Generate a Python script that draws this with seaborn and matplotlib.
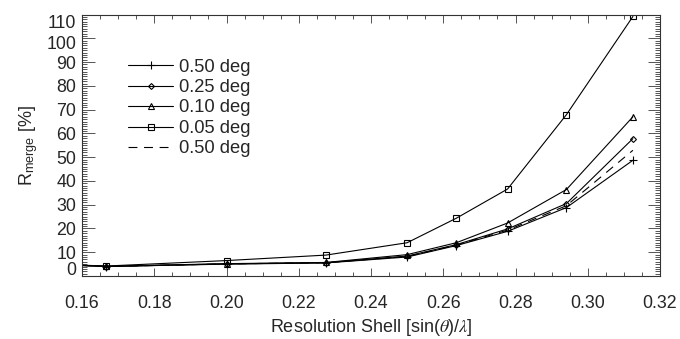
import matplotlib
matplotlib.use("Agg")
import matplotlib.pyplot as plt
import matplotlib.transforms as mtransforms
from matplotlib.ticker import MultipleLocator
import seaborn as sns

# resolution shells, sin(theta)/lambda
shell = [0.1429, 0.1667, 0.2000, 0.2275, 0.2500, 0.2636, 0.2778, 0.2941, 0.3125]

# R_merge (%) per oscillation width
r_050 = [5.5, 4.0, 5.0, 5.5, 8.0, 12.8, 18.8, 28.8, 48.7]
r_025 = [5.5, 4.0, 5.1, 5.6, 8.4, 13.2, 19.8, 30.5, 57.8]
r_010 = [5.5, 4.1, 5.2, 5.7, 9.0, 14.0, 22.3, 36.4, 67.0]
r_005 = [5.5, 4.2, 6.5, 8.8, 14.0, 24.3, 36.6, 67.9, 109.2]
r_050b = [5.5, 4.0, 5.1, 5.6, 8.2, 13.0, 19.3, 29.6, 52.9]

labels = ["0.50 deg", "0.25 deg", "0.10 deg", "0.05 deg", "0.50 deg"]

sns.set_theme(style="ticks")
plt.rcParams["font.family"] = ["Liberation Sans", "DejaVu Sans"]
plt.rcParams["mathtext.fontset"] = "stix"

fig = plt.figure(figsize=(6.8, 3.39), dpi=100)
ax = fig.add_axes([0.1206, 0.1858, 0.85, 0.7712])

styles = [
    dict(marker="+", markersize=5.5),
    dict(marker="D", markersize=3, markerfacecolor="none"),
    dict(marker="^", markersize=4.5, markerfacecolor="none"),
    dict(marker="s", markersize=4.5, markerfacecolor="none"),
]
for vals, lab, st in zip([r_050, r_025, r_010, r_005], labels[:4], styles):
    sns.lineplot(x=shell, y=vals, ax=ax, color="black", linewidth=0.8,
                 markeredgecolor="black", markeredgewidth=0.8, label=lab,
                 sort=False, **st)
sns.lineplot(x=shell, y=r_050b, ax=ax, color="black", linewidth=0.8,
             linestyle=(0, (8, 6)), label=labels[4], sort=False)

ax.set_xlim(0.16, 0.32)
ax.set_ylim(0, 110)
ax.xaxis.set_major_locator(MultipleLocator(0.02))
ax.xaxis.set_minor_locator(MultipleLocator(0.005))
ax.yaxis.set_major_locator(MultipleLocator(10))
ax.yaxis.set_minor_locator(MultipleLocator(1))
ax.set_xticklabels([f"{v:.2f}" for v in ax.get_xticks()])
ax.set_yticklabels([f"{int(round(v))}" for v in ax.get_yticks()])

ax.tick_params(which="both", direction="in", top=True, right=True,
               color="#555555", labelsize=12.8, width=0.7)
ax.tick_params(which="major", length=9, pad=4)
ax.tick_params(axis="x", which="major", length=6, pad=14)
ax.tick_params(which="minor", length=3.5)
ax.tick_params(axis="x", which="minor", length=3)
for s in ax.spines.values():
    s.set_linewidth(0.8)
    s.set_color("#333333")

# nudge crowded y labels like the original
nudges = {0: 8, 100: -4, 110: -7}
for t in ax.get_yticklabels():
    txt = t.get_text()
    if txt and int(txt) in nudges:
        dy = nudges[int(txt)]
        t.set_transform(t.get_transform() + mtransforms.ScaledTranslation(0, dy / 100, fig.dpi_scale_trans))

ax.set_xlabel(r"Resolution Shell [sin($\theta$)/$\lambda$]", fontsize=13, labelpad=3)
ax.set_ylabel(r"R$_{\mathregular{merge}}$ [%]", fontsize=13, labelpad=5)

leg = ax.legend(loc="upper left", bbox_to_anchor=(0.067, 0.86), frameon=False,
                fontsize=13.2, handlelength=2.45, handletextpad=0.35,
                labelspacing=0.19, borderaxespad=0)

fig.savefig("out.png", dpi=100)
